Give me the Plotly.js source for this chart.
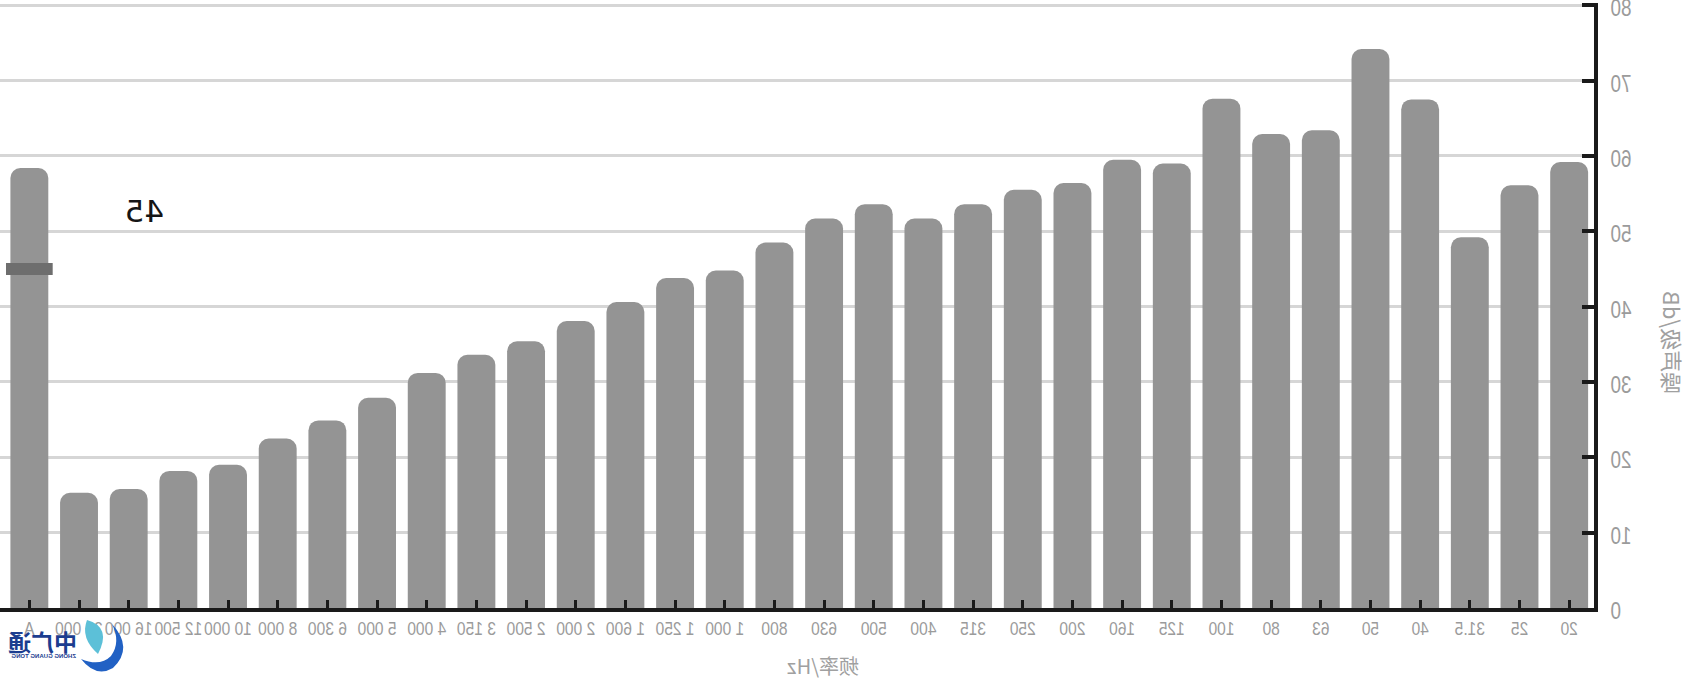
<!DOCTYPE html>
<html>
<head>
<meta charset="utf-8">
<script src="https://cdn.plot.ly/plotly-3.0.1.min.js"></script>
<style>
  html, body { margin: 0; padding: 0; background: #fff; }
  #chart { width: 1689px; height: 679px; transform: scaleX(-1); transform-origin: 50% 50%; }
</style>
</head>
<body>
<div id="chart"></div>
<script>
// Frequency bands (Hz) and overall A-weighted level
const categories = ['20','25','31.5','40','50','63','80','100','125','160','200','250','315','400','500','630','800','1 000','1 250','1 600','2 000','2 500','3 150','4 000','5 000','6 300','8 000','10 000','12 500','16 000','20 000','A'];
// Noise level (dB) per band
const levels = [59.2, 56.1, 49.2, 67.5, 74.2, 63.4, 62.9, 67.6, 59.0, 59.5, 56.4, 55.5, 53.6, 51.7, 53.6, 51.7, 48.5, 44.8, 43.8, 40.6, 38.1, 35.4, 33.6, 31.2, 27.9, 24.9, 22.5, 19.0, 18.2, 15.8, 15.3, 58.4];
// Marked limit on the A bar
const markCategory = 'A';
const markValue = 45;
const markLabel = '45';
// Axis ticks
const yTicks = [0, 10, 20, 30, 40, 50, 60, 70, 80];
const yTickLabels = ['0', '10', '20', '30', '40', '50', '60', '70', '80'];
const xTitle = '频率/Hz';
const yTitle = '噪声级/dB';

const W = 1689, H = 679;
const ML = 95, MR = 0, MT = 3, MB = 71;
const PW = W - ML - MR, PH = H - MT - MB;
const YMAX = 80.3;
// pixel (as seen in the mirrored picture) -> paper coordinates of the unmirrored plot
function px(xm) { return ((W - xm) - ML) / PW; }
function py(y) { return (H - MB - y) / PH; }

const fontFam = '"Liberation Sans", Arial, sans-serif';
const tickColor = '#9b9b9b';

const markIndex = categories.indexOf(markCategory);

const data = [{
  type: 'bar',
  x: categories,
  y: levels,
  marker: { color: '#949494', cornerradius: 10, line: { width: 0 } },
  hoverinfo: 'x+y'
}];

function crescentPath() {
  const P = (x, y) => px(x) + ',' + py(y);
  return 'M' + P(112, 624) +
    ' Q' + P(134, 648) + ' ' + P(113, 668) +
    ' Q' + P(96, 678) + ' ' + P(81, 659) +
    ' Q' + P(100, 667) + ' ' + P(111, 656) +
    ' Q' + P(121, 642) + ' ' + P(112, 624) + ' Z';
}
function leafPath() {
  const P = (x, y) => px(x) + ',' + py(y);
  return 'M' + P(87, 620) +
    ' Q' + P(112, 627) + ' ' + P(98, 654) +
    ' Q' + P(80, 638) + ' ' + P(87, 620) + ' Z';
}

const layout = {
  width: W, height: H,
  margin: { l: ML, r: MR, t: MT, b: MB, pad: 0 },
  paper_bgcolor: '#ffffff',
  plot_bgcolor: '#ffffff',
  showlegend: false,
  bargap: 0.237,
  xaxis: {
    type: 'category',
    categoryorder: 'array',
    categoryarray: categories,
    showline: true, linewidth: 4, linecolor: '#1a1a1a',
    ticks: 'inside', ticklen: 8, tickwidth: 3, tickcolor: '#1a1a1a',
    showgrid: false, zeroline: false,
    tickangle: 0,
    tickfont: { family: fontFam, size: 19, color: tickColor },
    automargin: false,
    fixedrange: true
  },
  yaxis: {
    range: [0, YMAX],
    tickvals: yTicks, ticktext: yTickLabels,
    showline: true, linewidth: 4, linecolor: '#1a1a1a',
    ticks: 'inside', ticklen: 12, tickwidth: 4, tickcolor: '#1a1a1a',
    showgrid: true, gridcolor: '#d6d6d6', gridwidth: 3,
    zeroline: false,
    tickfont: { family: fontFam, size: 23, color: tickColor },
    ticklabelstandoff: 8,
    ticklabelshift: 3,
    ticklabeloverflow: 'allow',
    automargin: false,
    fixedrange: true
  },
  shapes: [
    {
      type: 'line', xref: 'x', yref: 'y',
      x0: markIndex - 0.47, x1: markIndex + 0.47, y0: markValue, y1: markValue,
      line: { color: '#6e6e6e', width: 12 }, layer: 'above'
    },
    { type: 'path', xref: 'paper', yref: 'paper', path: crescentPath(), fillcolor: '#2161c4', line: { width: 0 } },
    { type: 'path', xref: 'paper', yref: 'paper', path: leafPath(), fillcolor: '#5cc0d8', line: { width: 0 } }
  ],
  annotations: [
    {
      xref: 'x', yref: 'y', x: markCategory, y: markValue,
      xshift: -115, yshift: 58,
      text: markLabel, showarrow: false,
      font: { family: '"DejaVu Sans", sans-serif', size: 31, color: '#151515' }
    },
    {
      xref: 'paper', yref: 'paper', x: px(823), y: py(665),
      xanchor: 'center', yanchor: 'middle',
      text: xTitle, showarrow: false,
      font: { family: '"Noto Sans CJK SC", "Liberation Sans", sans-serif', size: 20, color: '#a0a0a0' }
    },
    {
      xref: 'paper', yref: 'paper', x: px(1673), y: py(343),
      xanchor: 'center', yanchor: 'middle', textangle: -90,
      text: yTitle, showarrow: false,
      font: { family: '"Noto Sans CJK SC", "Liberation Sans", sans-serif', size: 22, color: '#a0a0a0' }
    },
    {
      xref: 'paper', yref: 'paper', x: px(43), y: py(641),
      xanchor: 'center', yanchor: 'middle',
      text: '<b>中广通</b>', showarrow: false,
      font: { family: '"Noto Sans CJK SC", sans-serif', size: 23, color: '#1c3d8f' }
    },
    {
      xref: 'paper', yref: 'paper', x: px(44), y: py(656),
      xanchor: 'center', yanchor: 'middle',
      text: '<b>ZHONG GUANG TONG</b>', showarrow: false,
      font: { family: '"Liberation Sans", Arial, sans-serif', size: 6, color: '#1c3d8f' }
    }
  ]
};

Plotly.newPlot('chart', data, layout, { displayModeBar: false, staticPlot: true }).then(function (gd) {
  // narrow the tick label glyphs (reference uses a condensed face)
  gd.querySelectorAll('.xtick text, .ytick text').forEach(function (t) {
    const w = t.getComputedTextLength();
    if (w > 0) {
      t.setAttribute('textLength', (w * 0.82).toFixed(1));
      t.setAttribute('lengthAdjust', 'spacingAndGlyphs');
    }
  });
});
</script>
</body>
</html>
